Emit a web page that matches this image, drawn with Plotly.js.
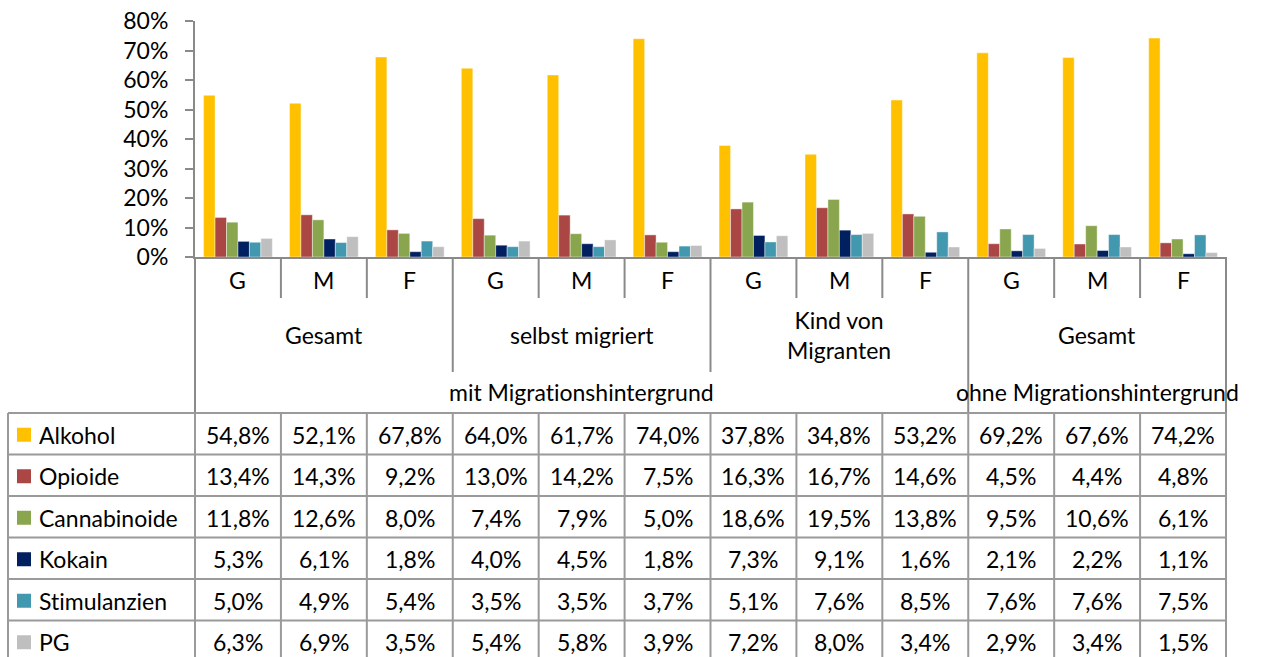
<!DOCTYPE html>
<html><head><meta charset="utf-8">
<script src="https://cdn.plot.ly/plotly-3.0.1.min.js"></script>
<style>html,body{margin:0;padding:0;background:#fff;overflow:hidden} text{font-variant-ligatures:none;font-feature-settings:"liga" 0,"clig" 0}</style>
</head><body><div id="chart" style="width:1270px;height:657px"></div>
<script>
// ---- data ----
const subLabels = ['G','M','F','G','M','F','G','M','F','G','M','F'];
const groupLabels = ['Gesamt','selbst migriert','Kind von<br>Migranten','Gesamt'];
const groupSpans = [3,3,3,3];
const outerLabels = ['mit Migrationshintergrund','ohne Migrationshintergrund'];
const outerSpans = [9,3];
const seriesNames = ['Alkohol','Opioide','Cannabinoide','Kokain','Stimulanzien','PG'];
const alkohol      = [54.8,52.1,67.8,64.0,61.7,74.0,37.8,34.8,53.2,69.2,67.6,74.2];
const opioide      = [13.4,14.3,9.2,13.0,14.2,7.5,16.3,16.7,14.6,4.5,4.4,4.8];
const cannabinoide = [11.8,12.6,8.0,7.4,7.9,5.0,18.6,19.5,13.8,9.5,10.6,6.1];
const kokain       = [5.3,6.1,1.8,4.0,4.5,1.8,7.3,9.1,1.6,2.1,2.2,1.1];
const stimulanzien = [5.0,4.9,5.4,3.5,3.5,3.7,5.1,7.6,8.5,7.6,7.6,7.5];
const pg           = [6.3,6.9,3.5,5.4,5.8,3.9,7.2,8.0,3.4,2.9,3.4,1.5];
const seriesValues = [alkohol,opioide,cannabinoide,kokain,stimulanzien,pg];
const colors = ['#FFC000','#AA4643','#89A54E','#002060','#4198AF','#BFBFBF'];

// ---- geometry (pixels) ----
const W=1270,H=657,L=195,R=1226,T=21,B=257;
const FONT='Lato, "Open Sans", sans-serif';
const FS=23;
const px2x = px => (px-L)/(R-L);
const py2y = py => (B-py)/(B-T);
const colW = (R-L)/12;
const colPx = k => L + k*colW;
const xs = subLabels.map((_,i)=>i);

const traces = seriesNames.map((n,s)=>({
  type:'bar', name:n, x:xs, y:seriesValues[s],
  marker:{color:colors[s], line:{color:'rgba(255,255,255,0.7)', width:0.6}},
  hoverinfo:'skip'
}));

const shapes=[], ann=[];
const axisCol='#8a8a8a', tabCol='#9a9a9a';
function vline(px,y0,y1,c){shapes.push({type:'line',xref:'paper',yref:'paper',x0:px2x(px),x1:px2x(px),y0:py2y(y0),y1:py2y(y1),line:{color:c,width:2}});}
function hline(x0,x1,py,c){shapes.push({type:'line',xref:'paper',yref:'paper',x0:px2x(x0),x1:px2x(x1),y0:py2y(py),y1:py2y(py),line:{color:c,width:2}});}

// category header lines
const rowLetterBottom=298, rowGroupBottom=372, tableTop=413;
let cum=0; const groupEnds=new Set(); groupSpans.forEach(s=>{cum+=s;groupEnds.add(cum);});
let cum2=0; const outerEnds=new Set(); outerSpans.forEach(s=>{cum2+=s;outerEnds.add(cum2);});
for(let k=0;k<=12;k++){
  let end=rowLetterBottom;
  if(k===0||outerEnds.has(k)) end=tableTop;
  else if(groupEnds.has(k)) end=rowGroupBottom;
  vline(colPx(k),B,end,axisCol);
}
// table
const rowH=41.5, nRows=seriesNames.length;
const tabLeft=8;
for(let r=0;r<=nRows;r++) hline(tabLeft,R,tableTop+r*rowH,tabCol);
vline(tabLeft,tableTop,tableTop+nRows*rowH,tabCol);
for(let k=0;k<=12;k++) vline(colPx(k),tableTop,tableTop+nRows*rowH,tabCol);

// letters
subLabels.forEach((t,i)=>ann.push({xref:'x',yref:'paper',x:i,y:py2y(280),text:t,showarrow:false,xanchor:'center',yanchor:'middle',font:{family:FONT,size:FS,color:'#000'}}));
// group labels
let start=0;
groupLabels.forEach((t,g)=>{const c=start+(groupSpans[g]-1)/2; start+=groupSpans[g];
  ann.push({xref:'x',yref:'paper',x:c,y:py2y(335),text:t,showarrow:false,xanchor:'center',yanchor:'middle',font:{family:FONT,size:FS,color:'#000'}});});
start=0;
outerLabels.forEach((t,g)=>{const c=start+(outerSpans[g]-1)/2; start+=outerSpans[g];
  ann.push({xref:'x',yref:'paper',x:c,y:py2y(392),text:t,showarrow:false,xanchor:'center',yanchor:'middle',font:{family:FONT,size:FS,color:'#000'}});});
// table contents
const fmt=v=>v.toFixed(1).replace('.',',')+'%';
seriesNames.forEach((n,s)=>{
  const cy=tableTop+s*rowH+rowH/2+1;
  shapes.push({type:'rect',xref:'paper',yref:'paper',x0:px2x(17),x1:px2x(31),y0:py2y(cy-7),y1:py2y(cy+7),fillcolor:colors[s],line:{width:0}});
  ann.push({xref:'paper',yref:'paper',x:px2x(37),y:py2y(cy),text:n,showarrow:false,xanchor:'left',yanchor:'middle',font:{family:FONT,size:FS,color:'#000'}});
  seriesValues[s].forEach((v,i)=>ann.push({xref:'x',yref:'paper',x:i,y:py2y(cy),text:fmt(v),showarrow:false,xanchor:'center',yanchor:'middle',font:{family:FONT,size:FS,color:'#000'}}));
});

const layout={
  width:W,height:H,margin:{l:L,r:W-R,t:T,b:H-B},
  paper_bgcolor:'#fff',plot_bgcolor:'#fff',
  barmode:'group',bargap:0.2,bargroupgap:0,showlegend:false,
  font:{family:FONT,size:FS,color:'#000'},
  xaxis:{range:[-0.5,11.5],showticklabels:false,ticks:'',showgrid:false,zeroline:false,showline:true,linecolor:axisCol,linewidth:2,fixedrange:true},
  yaxis:{range:[0,80],dtick:10,ticksuffix:'%',ticks:'outside',ticklen:8,tickcolor:axisCol,tickwidth:2,showgrid:false,zeroline:false,showline:true,linecolor:axisCol,linewidth:2,ticklabelstandoff:12,tickfont:{family:FONT,size:FS,color:'#000'},fixedrange:true},
  shapes:shapes,annotations:ann
};
Plotly.newPlot('chart',traces,layout,{staticPlot:true,displayModeBar:false});
</script></body></html>
